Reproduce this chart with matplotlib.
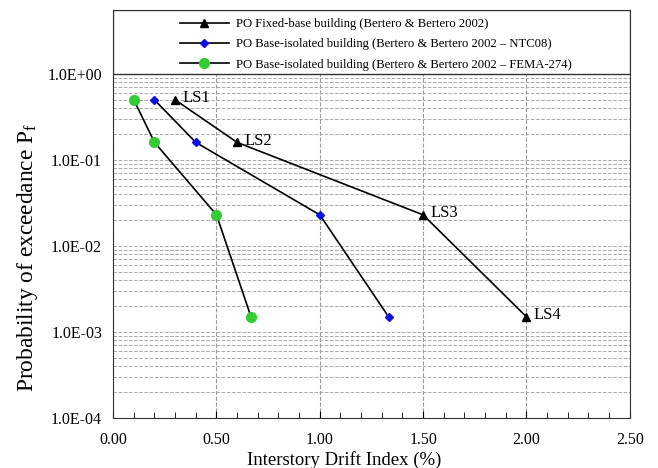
import matplotlib
matplotlib.use("Agg")
import matplotlib.pyplot as plt
from matplotlib.ticker import FuncFormatter, MultipleLocator, LogLocator, NullFormatter
from matplotlib.patches import Rectangle

plt.rcParams['font.family'] = ['Liberation Serif', 'DejaVu Serif']

# Data
states = ["LS1", "LS2", "LS3", "LS4"]
pf = [0.5, 0.16, 0.023, 0.0015]
idi_fixed = [0.3, 0.6, 1.5, 2.0]
idi_ntc = [0.2, 0.4, 1.0, 1.333]
idi_fema = [0.1, 0.2, 0.5, 0.667]
labels = ["PO Fixed-base building (Bertero & Bertero 2002)",
          "PO Base-isolated building (Bertero & Bertero 2002 \u2013 NTC08)",
          "PO Base-isolated building (Bertero & Bertero 2002 \u2013 FEMA-274)"]

fig = plt.figure(figsize=(6.58, 4.68), dpi=100)
ax = fig.add_axes([0.172, 0.107, 0.785, 0.872])

ymax = 10 ** 0.746
ax.set_yscale('log')
ax.set_xlim(0, 2.5)
ax.set_ylim(1e-4, ymax)

l1, = ax.plot(idi_fixed, pf, color='black', lw=1.2, marker='^', ms=6,
              mfc='black', mec='black', label=labels[0], zorder=5)
l2, = ax.plot(idi_ntc, pf, color='black', lw=1.2, marker='D', ms=4.5,
              mfc='#1010e0', mec='#1010e0', label=labels[1], zorder=5)
l3, = ax.plot(idi_fema, pf, color='black', lw=1.2, marker='o', ms=7,
              mfc='#33cc33', mec='#33cc33', label=labels[2], zorder=5)

for x, y, s in zip(idi_fixed, pf, states):
    ax.annotate(s, (x, y), xytext=(5, 1), textcoords='offset points',
                va='center', ha='left', fontsize=12, zorder=6)

# grid
ax.xaxis.set_major_locator(MultipleLocator(0.5))
ax.xaxis.set_minor_locator(MultipleLocator(0.1))
ax.yaxis.set_major_locator(LogLocator(base=10, numticks=10))
ax.yaxis.set_minor_locator(LogLocator(base=10, subs=range(2, 10), numticks=10))
ax.yaxis.set_minor_formatter(NullFormatter())
ax.yaxis.set_major_formatter(FuncFormatter(lambda v, p: f"{v:.1E}"))
ax.xaxis.set_major_formatter(FuncFormatter(lambda v, p: f"{v:.2f}"))
ax.grid(True, which='major', axis='x', ls='--', color='#999999', lw=0.8)
ax.grid(True, which='both', axis='y', ls='--', color='#aaaaaa', lw=0.7)
ax.tick_params(axis='both', which='both', direction='in', labelsize=11.5)
ax.tick_params(axis='x', which='major', length=5, pad=10)
ax.tick_params(axis='x', which='minor', length=4)
ax.tick_params(axis='y', which='both', length=0, pad=8)

# legend box covering area above 1.0
rect = Rectangle((0, 1.0), 2.5, ymax - 1.0, facecolor='white', edgecolor='#333333',
                 lw=1.0, zorder=3)
ax.add_patch(rect)
leg = ax.legend(handles=[l1, l2, l3], loc='upper left', bbox_to_anchor=(0.113, 1.0),
                frameon=False, fontsize=9.05, handlelength=3.9, handletextpad=0.55,
                labelspacing=0.66, borderaxespad=0.25)
leg.set_zorder(10)

ax.set_xlabel("Interstory Drift Index (%)", fontsize=13.5)
ax.xaxis.set_label_coords((344 - 113) / 517, -(451 - 418) / 408)
ax.set_ylabel("Probability of exceedance P$_\\mathregular{f}$", fontsize=16.8)
ax.yaxis.set_label_coords(-(113 - 40) / 517, (418 - 258) / 408)
for sp in ax.spines.values():
    sp.set_color('#333333')

fig.savefig("out.png", dpi=100)
